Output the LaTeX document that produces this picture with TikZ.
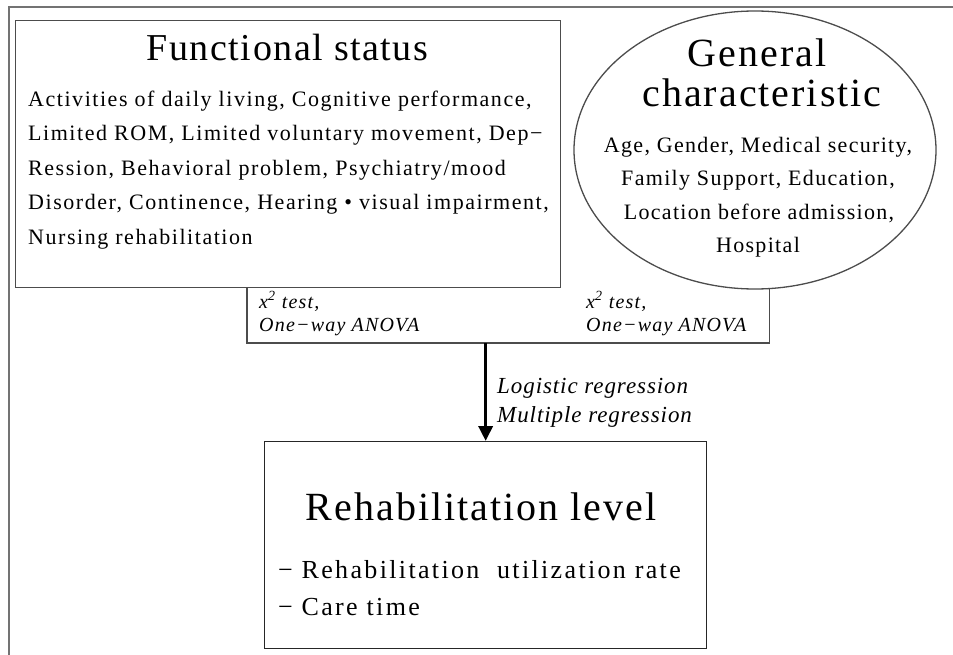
\documentclass[tikz,border=0pt]{standalone}
\usepackage{fontspec}
\setmainfont{Liberation Serif}
\newfontfamily\bodyserif[LetterSpace=7]{Liberation Serif}
\newfontfamily\ellserif[LetterSpace=6]{Liberation Serif}
\newfontfamily\titleserif[LetterSpace=5]{Liberation Serif}
\newfontfamily\ftitleserif[LetterSpace=4]{Liberation Serif}
\newfontfamily\itemserif[LetterSpace=9]{Liberation Serif}
\newfontfamily\testserif[LetterSpace=6]{Liberation Serif}
\newfontfamily\regserif[LetterSpace=4]{Liberation Serif}
\usetikzlibrary{shapes.geometric,arrows.meta}
\tikzset{
  frameline/.style={draw=black!55, line width=1.5pt},
  boxline/.style={draw=black!70, line width=1.3pt},
  ttl/.style={font=\titleserif\fontsize{40}{46}\selectfont, inner sep=0pt, anchor=base},
  fttl/.style={font=\ftitleserif\fontsize{38}{44}\selectfont, inner sep=0pt, anchor=base},
  bodytxt/.style={font=\bodyserif\fontsize{22}{26}\selectfont, inner sep=0pt, anchor=base west},
  ctrtxt/.style={font=\ellserif\fontsize{22}{26}\selectfont, inner sep=0pt, anchor=base},
  itemtxt/.style={font=\itemserif\fontsize{26}{30}\selectfont, inner sep=0pt, anchor=base west},
  testtxt/.style={font=\testserif\itshape\fontsize{20}{24}\selectfont, inner sep=0pt, anchor=base west},
  regtxt/.style={font=\regserif\itshape\fontsize{23}{27}\selectfont, inner sep=0pt, anchor=base west},
  bigarrow/.style={line width=3.5pt, -{Triangle[width=14pt,length=15pt]}}
}
\begin{document}
\begin{tikzpicture}[x=1pt,y=-1pt]
\useasboundingbox (0,0) rectangle (953,655);
% outer frame
\draw[frameline] (9,655) -- (9,7) -- (953,7);
% test box (three visible sides)
\node[inner sep=0pt, minimum width=522pt, minimum height=56pt, anchor=south west] (tb) at (247,343) {};
\draw[boxline] (tb.north west) -- (tb.south west) -- (tb.south east) -- (tb.north east);
% functional status box
\node[boxline, fill=white, inner sep=0pt, minimum width=545pt, minimum height=267pt, anchor=north west] (fs) at (15,20) {};
% general characteristic ellipse
\node[boxline, fill=white, ellipse, inner sep=0pt, minimum width=362pt, minimum height=278pt] (gc) at (755,150) {};
% rehabilitation level box
\node[boxline, draw=black!85, inner sep=0pt, minimum width=442pt, minimum height=207pt, anchor=north west] (rl) at (264,441) {};
% arrow
\draw[bigarrow] (tb.south -| rl.north) -- (rl.north);

% functional status text
\node[fttl] (fst) at (287.5,61) {Functional status};
\node[bodytxt] (fs1) at (28,107) {Activities of daily living, Cognitive performance,};
\node[bodytxt] (fs2) at (28,141) {Limited ROM, Limited voluntary movement, Dep−};
\node[bodytxt] (fs3) at (28,176) {Ression, Behavioral problem, Psychiatry/mood};
\node[bodytxt] (fs4) at (28,210) {Disorder, Continence, Hearing • visual impairment,};
\node[bodytxt] (fs5) at (28,244) {Nursing rehabilitation};

% general characteristic text
\node[ttl] (gct1) at (757,67) {General};
\node[ttl] (gct2) at (762,107) {characteristic};
\node[ctrtxt] (gc1) at (758,153) {Age, Gender, Medical security,};
\node[ctrtxt] (gc2) at (758,186) {Family Support, Education,};
\node[ctrtxt] (gc3) at (759,220) {Location before admission,};
\node[ctrtxt] (gc4) at (758,252) {Hospital};

% test labels
\node[testtxt] (t1a) at (259,308) {x\textsuperscript{2} test,};
\node[testtxt] (t1b) at (259,331) {One−way ANOVA};
\node[testtxt] (t2a) at (586,308) {x\textsuperscript{2} test,};
\node[testtxt] (t2b) at (586,331) {One−way ANOVA};

% regression labels
\node[regtxt] (r1) at (497,393) {Logistic regression};
\node[regtxt] (r2) at (497,422) {Multiple regression};

% rehabilitation level text
\node[ttl] (rlt) at (481,520) {Rehabilitation level};
\node[itemtxt] (rl1) at (278,578) {−\ Rehabilitation\ \ utilization rate};
\node[itemtxt] (rl2) at (278,615) {−\ Care time};
\end{tikzpicture}
\end{document}
